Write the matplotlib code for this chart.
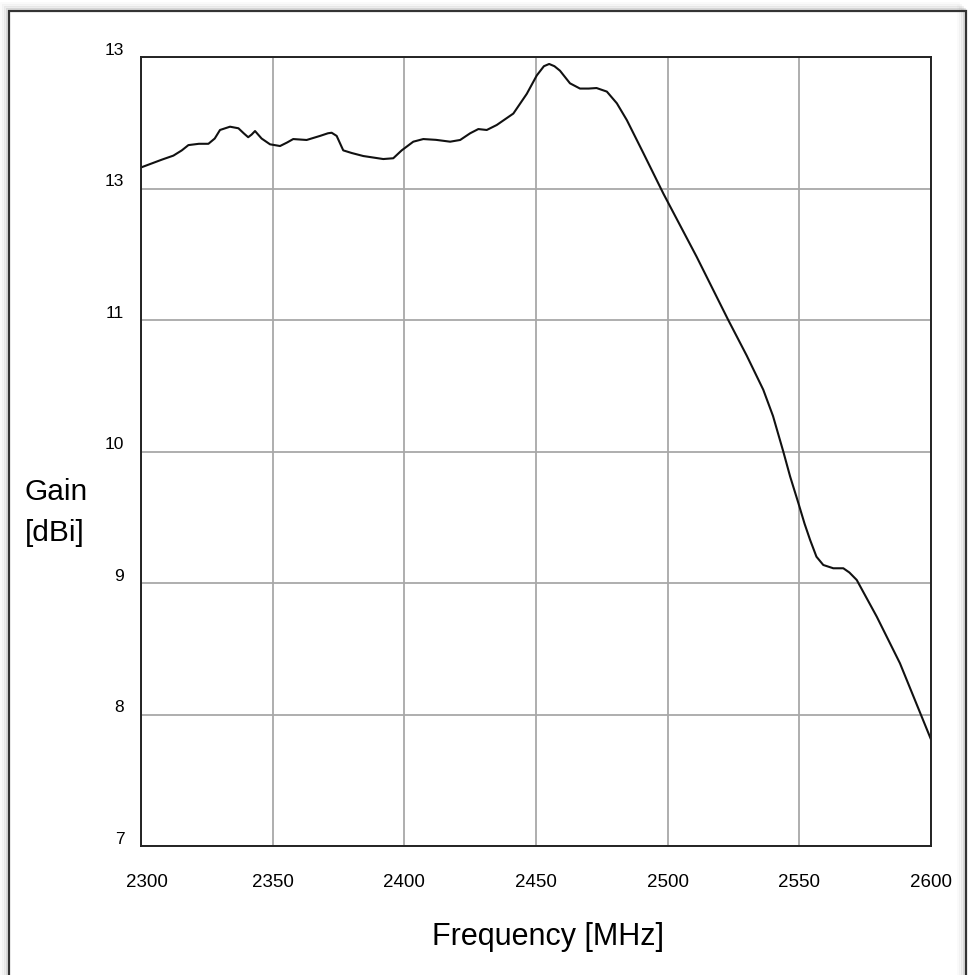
import matplotlib
matplotlib.use("Agg")
import matplotlib.pyplot as plt
import matplotlib.transforms as mtransforms
from matplotlib.patches import Rectangle

freq = [2300.0, 2304.0, 2308.0, 2312.3, 2315.5, 2318.0, 2322.0, 2325.6, 2328.0, 2330.0,
        2333.8, 2337.0, 2339.0, 2340.7, 2342.0, 2343.3, 2345.8, 2349.0, 2352.8, 2355.5,
        2357.8, 2362.9, 2368.0, 2371.0, 2372.4, 2374.3, 2376.8, 2380.0, 2384.4, 2392.0,
        2395.8, 2399.0, 2403.4, 2407.2, 2412.0, 2417.4, 2421.2, 2425.0, 2428.1, 2431.3,
        2435.1, 2441.4, 2446.5, 2450.3, 2453.0, 2455.0, 2457.0, 2459.1, 2462.9, 2466.7,
        2470.0, 2473.0, 2476.9, 2480.7, 2484.5, 2490.8, 2498.4, 2511.0, 2523.0, 2530.0,
        2536.3, 2540.0, 2543.9, 2546.5, 2549.6, 2552.0, 2554.1, 2556.5, 2559.1, 2562.9,
        2566.7, 2569.0, 2571.8, 2579.4, 2588.2, 2600.0]
gain = [12.16, 12.19, 12.22, 12.25, 12.29, 12.33, 12.34, 12.34, 12.38, 12.445,
        12.47, 12.458, 12.42, 12.39, 12.41, 12.437, 12.38, 12.336, 12.323, 12.35,
        12.376, 12.369, 12.40, 12.42, 12.424, 12.40, 12.29, 12.27, 12.247, 12.224,
        12.23, 12.29, 12.356, 12.376, 12.37, 12.356, 12.369, 12.42, 12.452, 12.445,
        12.483, 12.57, 12.72, 12.86, 12.93, 12.947, 12.93, 12.896, 12.80, 12.76,
        12.76, 12.764, 12.737, 12.648, 12.52, 12.268, 11.96, 11.481, 11.0, 10.73,
        10.47, 10.27, 10.0, 9.81, 9.61, 9.45, 9.327, 9.20, 9.137, 9.112,
        9.112, 9.08, 9.023, 8.744, 8.39, 7.81]

x_ticks = [2300, 2350, 2400, 2450, 2500, 2550, 2600]
y_ticks = [7, 8, 9, 10, 11, 12, 13]
y_tick_labels = ["7", "8", "9", "10", "11", "13", "13"]

plt.rcParams['font.family'] = ['Liberation Sans', 'DejaVu Sans']

fig = plt.figure(figsize=(9.69, 9.75), dpi=100)
ax = fig.add_axes([141/969, 1 - 846/975, (931-141)/969, (846-57)/975])

# outer frame with a soft shadow
for i, a in enumerate([0.25, 0.15, 0.08, 0.04]):
    fig.patches.append(Rectangle(((7 - 2*i)/969, -0.05), (966-9)/969, 1.05 - (9 - 2*i)/975,
                                 transform=fig.transFigure, fill=False,
                                 edgecolor='#888888', alpha=a, linewidth=2))
fig.patches.append(Rectangle((9/969, -0.05), (966-9)/969, 1.05 - 11/975,
                             transform=fig.transFigure, fill=False,
                             edgecolor='#333333', linewidth=1.6))

ax.plot(freq, gain, color='#111111', linewidth=1.5, solid_joinstyle='round',
        solid_capstyle='round')
ax.set_xlim(2300, 2600)
ax.set_ylim(7, 13)
ax.set_xticks(x_ticks)
ax.set_xticklabels([str(v) for v in x_ticks], fontsize=13.5)
ax.set_yticks(y_ticks)
ax.set_yticklabels(y_tick_labels, fontsize=12.5)
ax.tick_params(axis='both', length=0)
ax.tick_params(axis='x', pad=20)
ax.tick_params(axis='y', pad=12)
off = mtransforms.ScaledTranslation(0, 8/100, fig.dpi_scale_trans)
for lbl in ax.get_yticklabels():
    lbl.set_transform(lbl.get_transform() + off)
first = ax.get_xticklabels()[0]
first.set_transform(first.get_transform() +
                    mtransforms.ScaledTranslation(6/100, 0, fig.dpi_scale_trans))

ax.grid(True, color='#a8a8a8', linewidth=1.3)
ax.set_axisbelow(True)
for s in ax.spines.values():
    s.set_color('#222222')
    s.set_linewidth(1.4)

fig.text(432/969, 1 - 945/975, "Frequency [MHz]", fontsize=22, ha='left', va='baseline')
fig.text(25/969, 1 - 500/975, "Gain", fontsize=21.5, ha='left', va='baseline')
fig.text(25/969, 1 - 541/975, "[dBi]", fontsize=21.5, ha='left', va='baseline')

fig.savefig("out.png", dpi=100, facecolor='white')
